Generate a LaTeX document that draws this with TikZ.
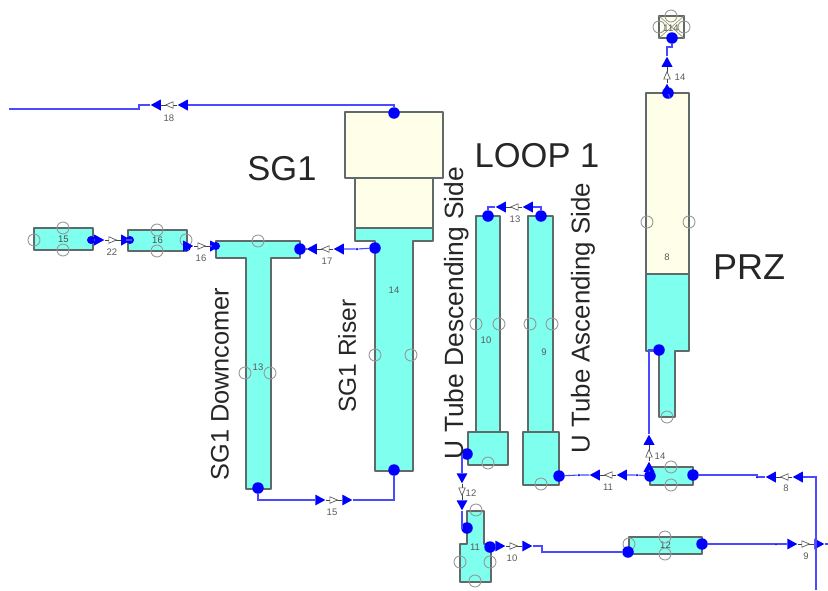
\documentclass[tikz,border=0pt]{standalone}
\usepackage{fontspec}
\setmainfont{Liberation Sans}
\usetikzlibrary{shapes.geometric}
\definecolor{water}{HTML}{7FFFEE}
\definecolor{steam}{HTML}{FFFEE8}
\definecolor{edge}{HTML}{5F6B6B}
\definecolor{pipeblue}{HTML}{4A4AFF}
\tikzset{
	tank/.style={draw=edge,line width=1.3pt,fill=water,line join=round},
	dome/.style={draw=edge,line width=1.3pt,fill=steam,line join=round},
	box/.style={tank,rectangle,inner sep=0pt,font=\fontsize{9.5}{9.5}\selectfont,text=black!70},
	hole/.style={circle,draw=black!40,line width=0.9pt,minimum size=12pt,inner sep=0pt},
	port/.style={circle,fill=blue,minimum size=11.5pt,inner sep=0pt},
	kink/.style={circle,fill=blue,minimum size=2.5pt,inner sep=0pt},
	pipe/.style={draw=pipeblue,line width=1.1pt},
	tip/.style={isosceles triangle,isosceles triangle apex angle=70,isosceles triangle stretches,fill=blue,minimum width=11pt,minimum height=10pt,inner sep=0pt},
	vlv/.style={isosceles triangle,isosceles triangle stretches,draw=black!65,fill=white,line width=0.7pt,minimum width=6.5pt,minimum height=7.5pt,inner sep=0pt},
	lbl/.style={font=\fontsize{9.5}{9.5}\selectfont,text=black!65,inner sep=0pt},
	title/.style={font=\fontsize{34.5}{35}\selectfont,text=black!85,inner sep=0pt},
	side/.style={font=\fontsize{25.3}{26}\selectfont,text=black!85,inner sep=0pt,rotate=90}
}
\begin{document}
\begin{tikzpicture}[x=1pt,y=1pt]
\useasboundingbox (0,0) rectangle (828,-590);

\draw[dome] (345,-112) rectangle (443,-178);
\draw[dome] (355,-178) rectangle (433,-228);
\draw[tank] (355,-228) -- (433,-228) -- (433,-241) -- (413,-241) -- (413,-471) -- (375,-471) -- (375,-241) -- (355,-241) -- cycle;
\draw[tank] (216,-241) -- (300,-241) -- (300,-258) -- (271,-258) -- (271,-489) -- (246,-489) -- (246,-258) -- (216,-258) -- cycle;
\draw[tank] (476,-216) -- (500,-216) -- (500,-432) -- (508,-432) -- (508,-465) -- (468,-465) -- (468,-432) -- (476,-432) -- cycle;
\draw[tank] (528,-216) -- (553,-216) -- (553,-432) -- (559,-432) -- (559,-485) -- (523,-485) -- (523,-432) -- (528,-432) -- cycle;
\draw[tank] (523,-432) -- (559,-432);
\draw[tank] (468,-432) -- (508,-432);
\draw[dome] (646,-93) rectangle (689,-274);
\draw[tank] (646,-274) -- (689,-274) -- (689,-351) -- (675,-351) -- (675,-417) -- (659,-417) -- (659,-351) -- (646,-351) -- cycle;
\draw[tank] (467,-511) -- (484,-511) -- (484,-544) -- (491,-544) -- (491,-582) -- (460,-582) -- (460,-544) -- (467,-544) -- cycle;

\node[box,minimum width=59pt,minimum height=22pt] (b15) at (63.5,-239) {15};
\node[box,minimum width=59pt,minimum height=21pt] (b16) at (157.5,-240.5) {16};
\node[box,minimum width=43pt,minimum height=18pt] (b44) at (671.5,-476) {};
\node[box,minimum width=73pt,minimum height=17pt] (b12) at (665.5,-545.5) {12};
\node[dome,rectangle,inner sep=0pt,minimum width=25pt,minimum height=22pt] (b114) at (671.5,-27) {};
\draw[black!45,line width=0.6pt] (b114.north west) -- (b114.south east) (b114.north east) -- (b114.south west);

\foreach \x/\y [count=\i] in {63/228,63/250,34/240,157/230,157/251,186/240,258/241,245/373,270/373,375/355,411/355,476/324,499/324,488/463,530/324,552/324,541/484,647/222,689/222,667/417,671/467,671/485,665/537,665/554,629/544,476/510,460/562,490/562,475/581,671/16,659/27,684/27}
	\node[hole] (hole\i) at (\x,-\y) {};

\foreach \name/\x/\y/\ang in {18/171/105/180,22/111/240/0,16/200/246/0,17/327/249/180,15/332/500/0,13/516/207/180,11/610/475/180,44/649/455/90,114/667/77/90,8/786/477/180,12/462/490/270,10/512/546/0,9/804/544/0}{
	\node[tip,rotate=\ang] (v\name a) at ([shift={(\ang:-13.5)}]\x,-\y) {};
	\node[tip,rotate=\ang] (v\name b) at ([shift={(\ang:13.5)}]\x,-\y) {};
	\draw[black!75,line width=1pt] (v\name a) -- (v\name b);
	\node[vlv,rotate=\ang] (v\name) at (\x,-\y) {};
}

\node[port] (pSgTop) at (394,-113) {};
\node[port] (pRiserIn) at (394,-470) {};
\node[port] (pRiserOut) at (375,-248) {};
\node[port] (pDownOut) at (258,-488) {};
\node[port,minimum size=8pt] (pDownIn) at (216,-246) {};
\node[port] (pDownTee) at (300,-249) {};
\node[port,minimum size=8pt] (p15r) at (91,-240) {};
\node[port,minimum size=8pt] (p16l) at (130,-240) {};
\node[port,minimum size=8pt] (p16r) at (187,-247) {};
\node[port] (pDescTop) at (488,-216) {};
\node[port] (pDescOut) at (467,-454) {};
\node[port] (pAscTop) at (541,-216) {};
\node[port] (pAscIn) at (559,-476) {};
\node[port] (pPrzTop) at (668,-93) {};
\node[port] (pPrzOut) at (659,-350) {};
\node[port] (pDomeIn) at (672,-38) {};
\node[port] (p44l) at (650,-476) {};
\node[port] (p44r) at (693,-475) {};
\node[port] (p11t) at (467,-528) {};
\node[port] (p11r) at (490,-547) {};
\node[port] (p12l) at (628,-552) {};
\node[port] (p12r) at (702,-544) {};

\node[kink] (k17) at (357,-249) {};
\node[kink] (k11l) at (579,-475) {};
\node[kink] (k11r) at (637,-475) {};
\node[kink] (k8) at (757,-477) {};
\node[kink] (k9) at (776,-544) {};

\coordinate (s18a) at (139,-105);
\coordinate (s18b) at (139,-109);
\coordinate (s18c) at (9,-109);
\coordinate (s114a) at (667,-47);
\coordinate (s114b) at (672,-47);
\coordinate (s8a) at (757,-475);
\coordinate (s8b) at (816,-477);
\coordinate (s8c) at (816,-590);
\coordinate (s10a) at (542,-546);
\coordinate (s10b) at (542,-552);
\coordinate (s9) at (828,-544);

\draw[pipe] (pSgTop) |- (v18a);
\draw[pipe] (v18b) -- (s18a) -- (s18b) -- (s18c);
\draw[pipe] (p15r) -- (v22a);
\draw[pipe] (v22b) -- (p16l);
\draw[pipe] (p16r) -- (v16a);
\draw[pipe] (v16b) -- (pDownIn);
\draw[pipe] (pRiserOut) -- (k17) -- (v17a);
\draw[pipe] (v17b) -- (pDownTee);
\draw[pipe] (pDownOut) |- (v15a);
\draw[pipe] (v15b) -| (pRiserIn);
\draw[pipe] (pAscTop) |- (v13a);
\draw[pipe] (v13b) -| (pDescTop);
\draw[pipe] (pDescOut) -| (v12a);
\draw[pipe] (v12b) |- (p11t);
\draw[pipe] (p11r) -- (v10a);
\draw[pipe] (v10b) -- (s10a) -- (s10b) -- (p12l);
\draw[pipe] (p12r) -- (k9) -- (v9a);
\draw[pipe] (v9b) -- (s9);
\draw[pipe] (p44l) -- (k11r) -- (v11a);
\draw[pipe] (v11b) -- (k11l) -- (pAscIn);
\draw[pipe] (p44r) -- (s8a) -- (k8) -- (v8b);
\draw[pipe] (v8a) -- (s8b) -- (s8c);
\draw[pipe,line width=1.6pt] (v44b) |- (pPrzOut);
\draw[pipe] (p44l) -- (v44a);
\draw[pipe] (pPrzTop) -- (v114a);
\draw[pipe] (v114b) -- (s114a) -- (s114b) -- (pDomeIn);

\node[lbl] (l18) at (169,-118) {18};
\node[lbl] (l22) at (112,-252) {22};
\node[lbl] (l16) at (201,-258) {16};
\node[lbl] (l17) at (327,-261) {17};
\node[lbl] (l15) at (332,-512) {15};
\node[lbl] (l13v) at (515,-219) {13};
\node[lbl] (l11v) at (608,-487) {11};
\node[lbl] (l44v) at (660,-456) {14};
\node[lbl] (l114v) at (680,-77) {14};
\node[lbl] (l8v) at (786,-488) {8};
\node[lbl] (l12v) at (471,-493) {12};
\node[lbl] (l10v) at (512,-558) {10};
\node[lbl] (l9v) at (806,-556) {9};
\node[lbl] (l13) at (258,-367) {13};
\node[lbl] (l14) at (394,-290) {14};
\node[lbl] (l10) at (486,-340) {10};
\node[lbl] (l9) at (544,-352) {9};
\node[lbl] (l8) at (667,-257) {8};
\node[lbl] (l11) at (475,-547) {11};
\node[lbl] (l114) at (671,-28) {114};

\node[title] (tSg) at (282,-169) {SG1};
\node[title] (tLoop) at (537,-156) {LOOP 1};
\node[title,font=\fontsize{36}{36}\selectfont] (tPrz) at (749,-267) {PRZ};
\node[side] (tDown) at (220,-384) {SG1 Downcomer};
\node[side,font=\fontsize{24.5}{25}\selectfont] (tRiser) at (347,-356) {SG1 Riser};
\node[side,font=\fontsize{26.4}{27}\selectfont] (tDesc) at (457,-313) {U Tube Descending Side};
\node[side,font=\fontsize{25.8}{26}\selectfont] (tAsc) at (583,-318) {U Tube Ascending Side};
\end{tikzpicture}
\end{document}
